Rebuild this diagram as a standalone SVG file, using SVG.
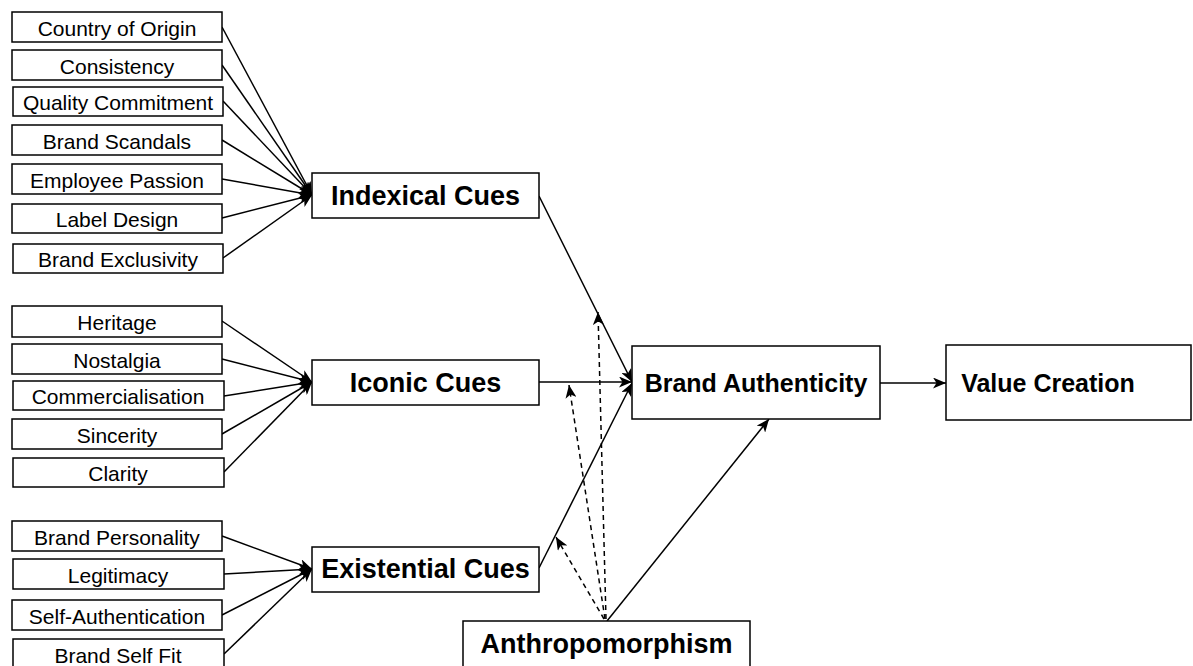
<svg xmlns="http://www.w3.org/2000/svg" width="1193" height="666" viewBox="0 0 1193 666">
  <style>
    .box { fill: #ffffff; stroke: #000000; stroke-width: 1.5; }
    .leaf { font-family: "Liberation Sans", Arial, sans-serif; font-size: 21px; fill: #000000; text-anchor: middle; }
    .cue { font-family: "Liberation Sans", Arial, sans-serif; font-size: 27px; font-weight: bold; fill: #000000; text-anchor: middle; }
    .core { font-family: "Liberation Sans", Arial, sans-serif; font-size: 25px; font-weight: bold; fill: #000000; text-anchor: middle; }
    .edge { fill: none; stroke: #000000; stroke-width: 1.5; marker-end: url(#arrow); }
    .dashed { stroke-dasharray: 5 4; }
  </style>
  <defs>
    <marker id="arrow" viewBox="0 0 13 11" refX="13" refY="5.5" markerWidth="13" markerHeight="11" markerUnits="userSpaceOnUse" orient="auto">
      <path d="M0,0 L13,5.5 L0,11 L3.5,5.5 Z" fill="#000000"/>
    </marker>
  </defs>
  <rect width="1193" height="666" fill="#ffffff"/>

  <g id="connectors">
    <!-- indexical drivers -->
    <line class="edge" x1="222" y1="27" x2="312" y2="195"/>
    <line class="edge" x1="222" y1="65" x2="312" y2="195"/>
    <line class="edge" x1="223" y1="101" x2="312" y2="195"/>
    <line class="edge" x1="222" y1="140" x2="312" y2="195"/>
    <line class="edge" x1="222" y1="179" x2="312" y2="195"/>
    <line class="edge" x1="222" y1="218" x2="312" y2="195"/>
    <line class="edge" x1="223" y1="258" x2="312" y2="195"/>
    <!-- iconic drivers -->
    <line class="edge" x1="222" y1="321" x2="312" y2="382"/>
    <line class="edge" x1="222" y1="359" x2="312" y2="382"/>
    <line class="edge" x1="224" y1="396" x2="312" y2="382"/>
    <line class="edge" x1="222" y1="434" x2="312" y2="382"/>
    <line class="edge" x1="224" y1="472" x2="312" y2="382"/>
    <!-- existential drivers -->
    <line class="edge" x1="222" y1="536" x2="312" y2="569"/>
    <line class="edge" x1="224" y1="574" x2="312" y2="569"/>
    <line class="edge" x1="222" y1="615" x2="312" y2="569"/>
    <line class="edge" x1="224" y1="654" x2="312" y2="569"/>
    <!-- cues to brand authenticity -->
    <line class="edge" x1="539" y1="196" x2="632" y2="382"/>
    <line class="edge" x1="539" y1="382" x2="632" y2="382"/>
    <line class="edge" x1="539" y1="568" x2="632" y2="383"/>
    <!-- outcome -->
    <line class="edge" x1="880" y1="383" x2="946" y2="383"/>
    <!-- anthropomorphism: direct and moderating paths -->
    <line class="edge" x1="607" y1="621" x2="769" y2="419"/>
    <line class="edge dashed" x1="606" y1="619" x2="598" y2="312"/>
    <line class="edge dashed" x1="605" y1="619" x2="569" y2="385"/>
    <line class="edge dashed" x1="604" y1="619" x2="556" y2="537"/>
  </g>

  <g id="country-of-origin"><rect class="box" x="12" y="12" width="210" height="30"/><text class="leaf" x="117" y="36">Country of Origin</text></g>
  <g id="consistency"><rect class="box" x="12" y="50" width="210" height="30"/><text class="leaf" x="117" y="74">Consistency</text></g>
  <g id="quality-commitment"><rect class="box" x="13" y="87" width="210" height="29"/><text class="leaf" x="118" y="110">Quality Commitment</text></g>
  <g id="brand-scandals"><rect class="box" x="12" y="125" width="210" height="30"/><text class="leaf" x="117" y="149">Brand Scandals</text></g>
  <g id="employee-passion"><rect class="box" x="12" y="164" width="210" height="30"/><text class="leaf" x="117" y="188">Employee Passion</text></g>
  <g id="label-design"><rect class="box" x="12" y="204" width="210" height="29"/><text class="leaf" x="117" y="227">Label Design</text></g>
  <g id="brand-exclusivity"><rect class="box" x="13" y="244" width="210" height="29"/><text class="leaf" x="118" y="267">Brand Exclusivity</text></g>

  <g id="heritage"><rect class="box" x="12" y="306" width="210" height="31"/><text class="leaf" x="117" y="330">Heritage</text></g>
  <g id="nostalgia"><rect class="box" x="12" y="344" width="210" height="30"/><text class="leaf" x="117" y="368">Nostalgia</text></g>
  <g id="commercialisation"><rect class="box" x="13" y="381" width="211" height="29"/><text class="leaf" x="118" y="404">Commercialisation</text></g>
  <g id="sincerity"><rect class="box" x="12" y="419" width="210" height="30"/><text class="leaf" x="117" y="443">Sincerity</text></g>
  <g id="clarity"><rect class="box" x="13" y="458" width="211" height="29"/><text class="leaf" x="118" y="481">Clarity</text></g>

  <g id="brand-personality"><rect class="box" x="12" y="521" width="210" height="30"/><text class="leaf" x="117" y="545">Brand Personality</text></g>
  <g id="legitimacy"><rect class="box" x="13" y="559" width="211" height="30"/><text class="leaf" x="118" y="583">Legitimacy</text></g>
  <g id="self-authentication"><rect class="box" x="12" y="600" width="210" height="30"/><text class="leaf" x="117" y="624">Self-Authentication</text></g>
  <g id="brand-self-fit"><rect class="box" x="13" y="639" width="211" height="30"/><text class="leaf" x="118" y="663">Brand Self Fit</text></g>

  <g id="indexical-cues"><rect class="box" x="312" y="173" width="227" height="45"/><text class="cue" x="425.5" y="205">Indexical Cues</text></g>
  <g id="iconic-cues"><rect class="box" x="312" y="360" width="227" height="45"/><text class="cue" x="425.5" y="392">Iconic Cues</text></g>
  <g id="existential-cues"><rect class="box" x="312" y="547" width="227" height="45"/><text class="cue" x="425.5" y="578">Existential Cues</text></g>
  <g id="anthropomorphism"><rect class="box" x="463" y="621" width="287" height="60"/><text class="cue" x="606.5" y="653">Anthropomorphism</text></g>

  <g id="brand-authenticity"><rect class="box" x="632" y="346" width="248" height="73"/><text class="core" x="756" y="392">Brand Authenticity</text></g>
  <g id="value-creation"><rect class="box" x="946" y="345" width="245" height="75"/><text class="core" x="1048" y="392">Value Creation</text></g>
</svg>
